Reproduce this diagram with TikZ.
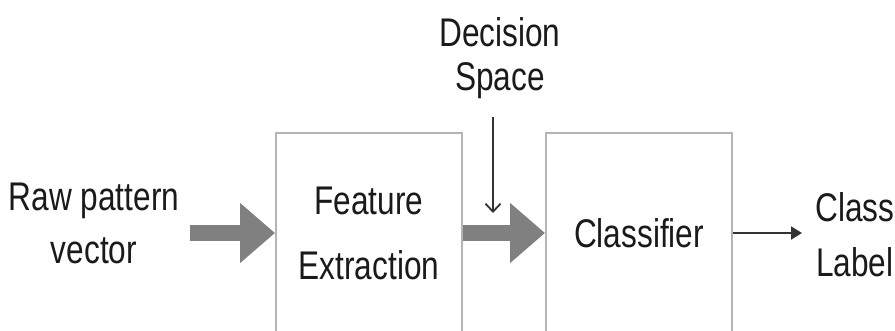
\documentclass[tikz,border=0pt]{standalone}
\usepackage{fontspec}
\setmainfont[FakeStretch=0.79]{Liberation Sans}
\usetikzlibrary{arrows.meta}
\definecolor{txt}{HTML}{1A1A1A}
\definecolor{boxline}{HTML}{B4B4B4}
\definecolor{fat}{HTML}{808080}
\definecolor{thin}{HTML}{333333}
\tikzset{
  lbl/.style={inner sep=0pt, align=center, text=txt},
  blockbox/.style={draw=boxline, line width=2pt, minimum width=186pt, minimum height=200pt, inner sep=0pt, align=center, text=txt, font={\fontsize{40}{65}\selectfont}},
  fatarrow/.style={draw=fat, line width=16pt, -{Triangle[width=58pt,length=35pt]}},
  thinarrow/.style={draw=thin, line width=2pt, -{Triangle[width=13pt,length=11pt]}},
  barbarrow/.style={draw=thin, line width=1.8pt, -{Straight Barb[width=15pt,length=8pt]}}
}
\begin{document}
\begin{tikzpicture}[x=1pt,y=-1pt]
\useasboundingbox (0,0) rectangle (895,330);
\clip (0,0) rectangle (895,330);
\node[blockbox] (fe) at (369,233) {Feature\\Extraction};
\node[blockbox, font={\fontsize{40}{48}\selectfont}] (cl) at (639,233) {Classifier};
\node[lbl, font={\fontsize{40}{53}\selectfont}] (raw) at (94,223) {Raw pattern\\vector};
\node[lbl, font={\fontsize{40}{44}\selectfont}] (dec) at (500,58.5) {Decision\\Space};
\node[lbl, anchor=west, font={\fontsize{40}{55}\selectfont}] (lab) at (815,235) {Class\\Label};
\coordinate (dtip) at (493,213);
\draw[fatarrow, shorten <=11pt] (raw.east |- fe.west) -- (fe.west);
\draw[fatarrow] (fe.east) -- (cl.west);
\draw[barbarrow] (dtip |- dec.south) ++(0,18) -- (dtip);
\draw[thinarrow, shorten >=13pt] (cl.east) -- (cl.east -| lab.west);
\end{tikzpicture}
\end{document}
